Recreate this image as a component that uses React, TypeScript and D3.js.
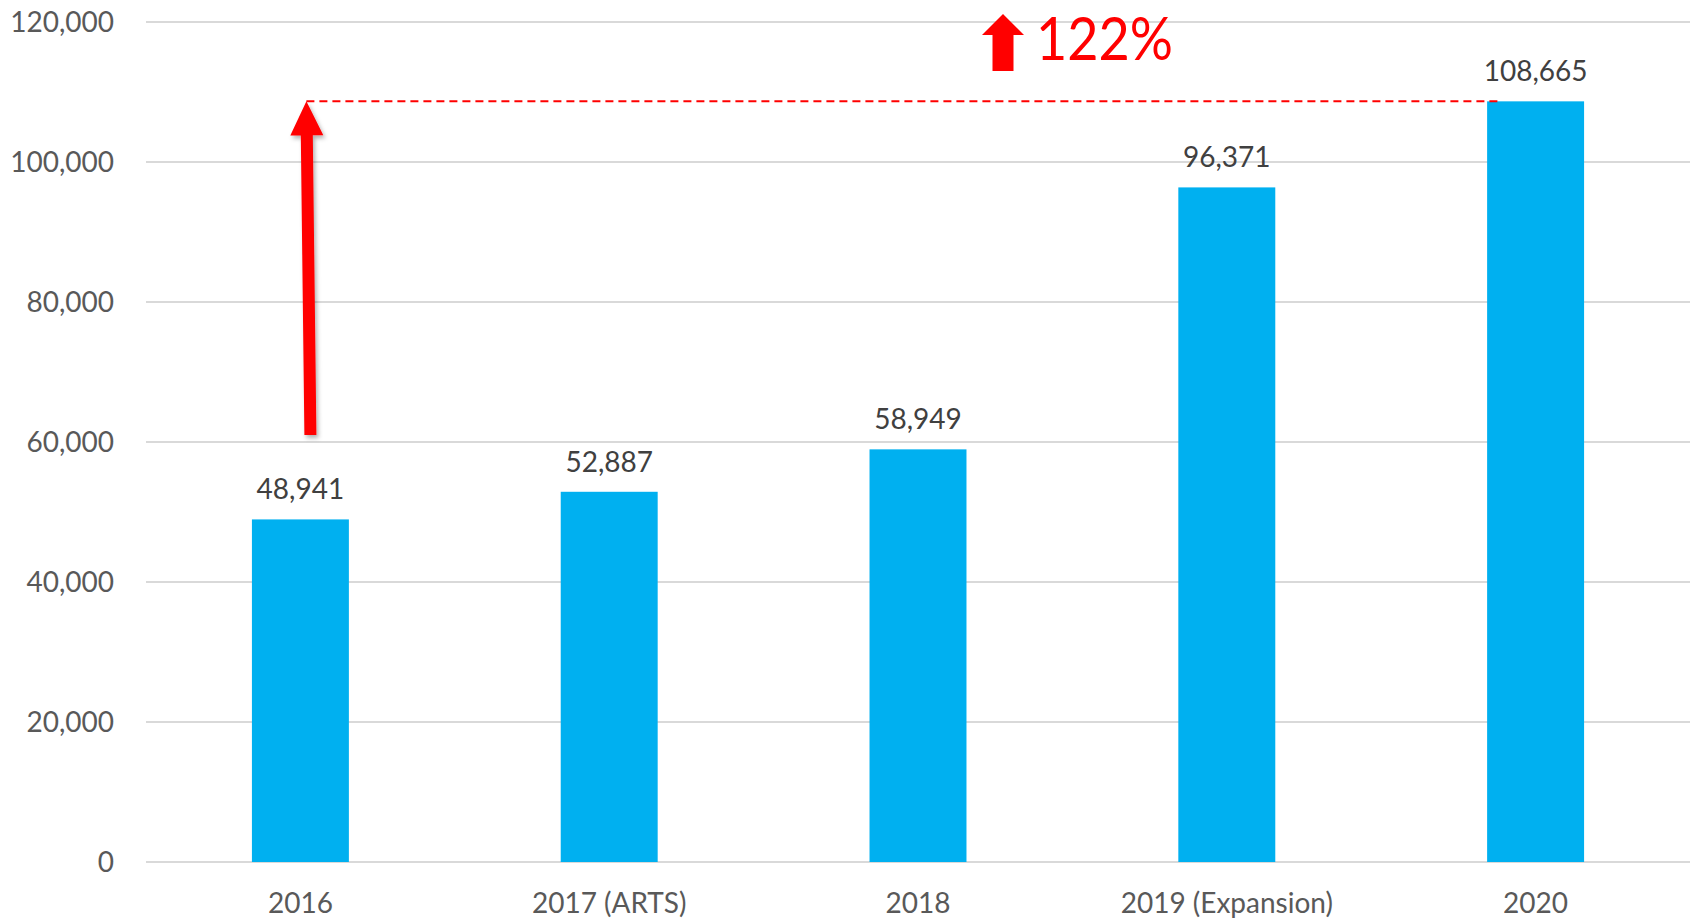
import { useEffect, useRef } from "react";
import * as d3 from "d3";

const categories = ["2016", "2017 (ARTS)", "2018", "2019 (Expansion)", "2020"];
const values = [48941, 52887, 58949, 96371, 108665];
const yTicks = [0, 20000, 40000, 60000, 80000, 100000, 120000];
// where the red growth arrow starts (value on the y axis)
const arrowStartValue = 61000;

const W = 1696;
const H = 920;

const App = () => {
  const svgRef = useRef<SVGSVGElement | null>(null);

  useEffect(() => {
    document.body.style.margin = "0";
    const svg = d3.select(svgRef.current);
    svg.selectAll("*").remove();

    const x = d3
      .scaleBand()
      .domain(categories)
      .range([146, 1690])
      .paddingInner(0.686)
      .paddingOuter(0.343);
    const y = d3.scaleLinear().domain([0, 120000]).range([862, 22]);
    const fmt = d3.format(",");
    const font = "Lato, 'Open Sans', sans-serif";
    const fs = 28;

    const defs = svg.append("defs");
    const shadow = defs.append("filter").attr("id", "shd").attr("x", "-50%").attr("y", "-10%").attr("width", "200%").attr("height", "120%");
    shadow
      .append("feDropShadow")
      .attr("dx", 2)
      .attr("dy", 3)
      .attr("stdDeviation", 2)
      .attr("flood-color", "#000")
      .attr("flood-opacity", 0.3);

    // grid
    svg
      .append("g")
      .selectAll("line")
      .data(yTicks)
      .join("line")
      .attr("x1", 146)
      .attr("x2", 1690)
      .attr("y1", (d) => y(d))
      .attr("y2", (d) => y(d))
      .attr("stroke", "#d9d9d9")
      .attr("stroke-width", 2);

    // y tick labels
    svg
      .append("g")
      .selectAll("text")
      .data(yTicks)
      .join("text")
      .attr("x", 114)
      .attr("y", (d) => y(d) + 10)
      .attr("text-anchor", "end")
      .attr("font-family", font)
      .attr("font-size", fs)
      .attr("fill", "#595959")
      .text((d) => fmt(d));

    // bars
    svg
      .append("g")
      .selectAll("rect")
      .data(values)
      .join("rect")
      .attr("x", (d, i) => x(categories[i])!)
      .attr("width", x.bandwidth())
      .attr("y", (d) => y(d))
      .attr("height", (d) => y(0) - y(d))
      .attr("fill", "#00b0f0");

    // data labels
    svg
      .append("g")
      .selectAll("text")
      .data(values)
      .join("text")
      .attr("x", (d, i) => x(categories[i])! + x.bandwidth() / 2)
      .attr("y", (d) => y(d) - 20)
      .attr("text-anchor", "middle")
      .attr("font-family", font)
      .attr("font-size", fs)
      .attr("fill", "#404040")
      .text((d) => fmt(d));

    // category labels
    svg
      .append("g")
      .selectAll("text")
      .data(categories)
      .join("text")
      .attr("x", (d) => x(d)! + x.bandwidth() / 2)
      .attr("y", 913)
      .attr("text-anchor", "middle")
      .attr("font-family", font)
      .attr("font-size", fs)
      .attr("fill", "#595959")
      .text((d) => d);

    // dashed line at last value
    const first = values[0];
    const last = values[values.length - 1];
    const cx0 = x(categories[0])! + x.bandwidth() / 2;
    const tipX = cx0 + 6;
    const tipY = y(last);
    svg
      .append("line")
      .attr("x1", tipX)
      .attr("x2", x(categories[categories.length - 1])! + 12)
      .attr("y1", tipY)
      .attr("y2", tipY)
      .attr("stroke", "#ff0000")
      .attr("stroke-width", 2)
      .attr("stroke-dasharray", "8,5");

    // slanted red arrow
    const botX = cx0 + 10;
    const botY = y(arrowStartValue);
    const headLen = 34;
    const headHalf = 16.5;
    const shaftHalf = 6;
    const ang = Math.atan2(botY - tipY, botX - tipX);
    const ux = Math.cos(ang), uy = Math.sin(ang);
    const px = -uy, py = ux;
    const bx = tipX + ux * headLen, by = tipY + uy * headLen;
    const pts: [number, number][] = [
      [tipX, tipY],
      [bx + px * headHalf, by + py * headHalf],
      [bx + px * shaftHalf, by + py * shaftHalf],
      [botX + px * shaftHalf, botY + py * shaftHalf],
      [botX - px * shaftHalf, botY - py * shaftHalf],
      [bx - px * shaftHalf, by - py * shaftHalf],
      [bx - px * headHalf, by - py * headHalf],
    ];
    svg
      .append("path")
      .attr("d", d3.line()(pts) + "Z")
      .attr("fill", "#ff0000")
      .attr("filter", "url(#shd)");

    // block arrow + percent
    const pct = Math.round((last / first - 1) * 100);
    const ax = 1003;
    const blockPts: [number, number][] = [
      [ax, 14],
      [ax + 21, 35],
      [ax + 10.5, 35],
      [ax + 10.5, 71],
      [ax - 10.5, 71],
      [ax - 10.5, 35],
      [ax - 21, 35],
    ];
    svg
      .append("path")
      .attr("d", d3.line()(blockPts) + "Z")
      .attr("fill", "#ff0000");
    svg
      .append("text")
      .attr("x", 1036)
      .attr("y", 60)
      .attr("font-family", font)
      .attr("font-size", 60)
      .attr("fill", "#ff0000")
      .attr("textLength", 137)
      .attr("lengthAdjust", "spacingAndGlyphs")
      .text(`${pct}%`);
  }, []);

  return (
    <svg
      ref={svgRef}
      width={W}
      height={H}
      style={{ display: "block", background: "white" }}
    ></svg>
  );
};

export default App;
